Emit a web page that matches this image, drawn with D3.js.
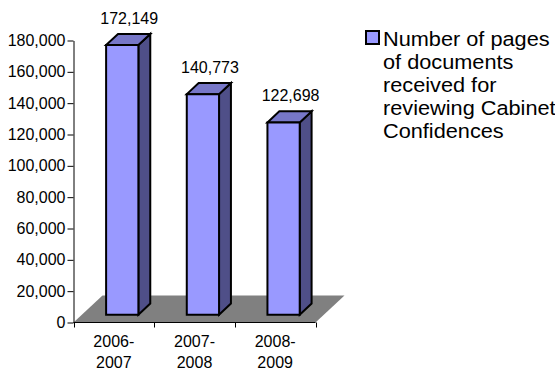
<!DOCTYPE html>
<html>
<head>
<meta charset="utf-8">
<script src="https://cdn.jsdelivr.net/npm/d3@7"></script>
<style>
  html, body { margin: 0; padding: 0; background: #fff; }
  svg { display: block; font-family: "Liberation Sans", Arial, sans-serif; }
</style>
</head>
<body>
<svg id="chart" width="555" height="371"></svg>
<script>
// Fiscal years and pages received for Cabinet Confidence reviews
const categories = ["2006-2007", "2007-2008", "2008-2009"];
const pages = [172149, 140773, 122698];
const yTicks = [0, 20000, 40000, 60000, 80000, 100000, 120000, 140000, 160000, 180000];
const legendLines = ["Number of pages", "of documents", "received for", "reviewing Cabinet", "Confidences"];

const svg = d3.select("#chart");

// Plot frame (front plane of the 3-D floor)
const plotLeft = 73.5, plotRight = 315.5, plotBase = 322.5, plotTop = 40.5;
// Depth direction of the floor, and the slice of depth the columns occupy
const depth = { dx: 29, dy: -27 };
const colFront = 0.29, colDepth = 0.41;

const x = d3.scaleBand().domain(categories).range([plotLeft, plotRight]).paddingInner(0).paddingOuter(0);
const y = d3.scaleLinear().domain([0, 180000]).range([plotBase, plotTop]);

// Floor
const floor = [
  [plotLeft, plotBase], [plotRight, plotBase],
  [plotRight + depth.dx, plotBase + depth.dy], [plotLeft + depth.dx, plotBase + depth.dy]
];
svg.append("path")
  .attr("d", "M" + floor.join("L") + "Z")
  .attr("fill", "#808080");

// Columns
const barW = x.bandwidth() * 0.4;
const ox = depth.dx * colFront, oy = depth.dy * colFront;
const ddx = depth.dx * colDepth, ddy = depth.dy * colDepth;

const bars = svg.append("g").selectAll("g")
  .data(categories.map((c, i) => ({ c, v: pages[i] })))
  .join("g");

bars.each(function (d) {
  const g = d3.select(this);
  const x0 = x(d.c) + x.bandwidth() / 2 - barW / 2 + ox;
  const x1 = x0 + barW;
  const yb = y(0) + oy;
  const yt = y(d.v) + oy;
  const face = (pts, fill) => g.append("path")
    .attr("d", "M" + pts.join("L") + "Z")
    .attr("fill", fill)
    .attr("stroke", "#000")
    .attr("stroke-width", 2)
    .attr("stroke-linejoin", "miter");
  // side face
  face([[x1, yb], [x1 + ddx, yb + ddy], [x1 + ddx, yt + ddy], [x1, yt]], "#4F4F88");
  // top face
  face([[x0, yt], [x1, yt], [x1 + ddx, yt + ddy], [x0 + ddx, yt + ddy]], "#7777C8");
  // front face
  face([[x0, yb], [x1, yb], [x1, yt], [x0, yt]], "#9999FF");

  // value label
  g.append("text")
    .attr("x", (x0 + x1) / 2 + 7)
    .attr("y", yt + ddy - 10)
    .attr("text-anchor", "middle")
    .attr("font-size", 16)
    .attr("fill", "#000")
    .text(d3.format(",")(d.v));
});

// Value axis
const yAxis = svg.append("g")
  .attr("transform", `translate(${plotLeft},0)`)
  .call(d3.axisLeft(y).tickValues(yTicks).tickFormat(d3.format(",")).tickSize(6).tickSizeOuter(0).tickPadding(2));
yAxis.select(".domain").attr("stroke", "#000");
yAxis.selectAll(".tick line").attr("stroke", "#000");
yAxis.selectAll(".tick text")
  .attr("font-size", 16)
  .attr("font-family", "'Liberation Sans', Arial, sans-serif")
  .attr("fill", "#000");

// Category axis: line with ticks at category boundaries
const bounds = categories.map(c => x(c)).concat([plotRight]);
const xAxis = svg.append("g");
xAxis.append("line")
  .attr("x1", plotLeft).attr("x2", plotRight)
  .attr("y1", plotBase).attr("y2", plotBase)
  .attr("stroke", "#000");
xAxis.selectAll("line.tick")
  .data(bounds)
  .join("line")
  .attr("class", "tick")
  .attr("x1", d => Math.round(d) + 0.5).attr("x2", d => Math.round(d) + 0.5)
  .attr("y1", plotBase).attr("y2", plotBase + 5)
  .attr("stroke", "#000");

const catLabels = xAxis.selectAll("text")
  .data(categories)
  .join("text")
  .attr("text-anchor", "middle")
  .attr("font-size", 16)
  .attr("fill", "#000");
catLabels.append("tspan")
  .attr("x", d => x(d) + x.bandwidth() / 2)
  .attr("y", 347)
  .text(d => d.slice(0, 5));
catLabels.append("tspan")
  .attr("x", d => x(d) + x.bandwidth() / 2)
  .attr("y", 368)
  .text(d => d.slice(5));

// Legend
const legend = svg.append("g");
legend.append("rect")
  .attr("x", 366).attr("y", 31)
  .attr("width", 13).attr("height", 13)
  .attr("fill", "#9999FF")
  .attr("stroke", "#000").attr("stroke-width", 2);
legend.append("text")
  .attr("transform", "translate(383,0) scale(1.06,1)")
  .attr("font-size", 20.5)
  .attr("fill", "#000")
  .selectAll("tspan")
  .data(legendLines)
  .join("tspan")
  .attr("x", 0)
  .attr("y", (d, i) => 45.7 + i * 23.1)
  .text(d => d);
</script>
</body>
</html>
